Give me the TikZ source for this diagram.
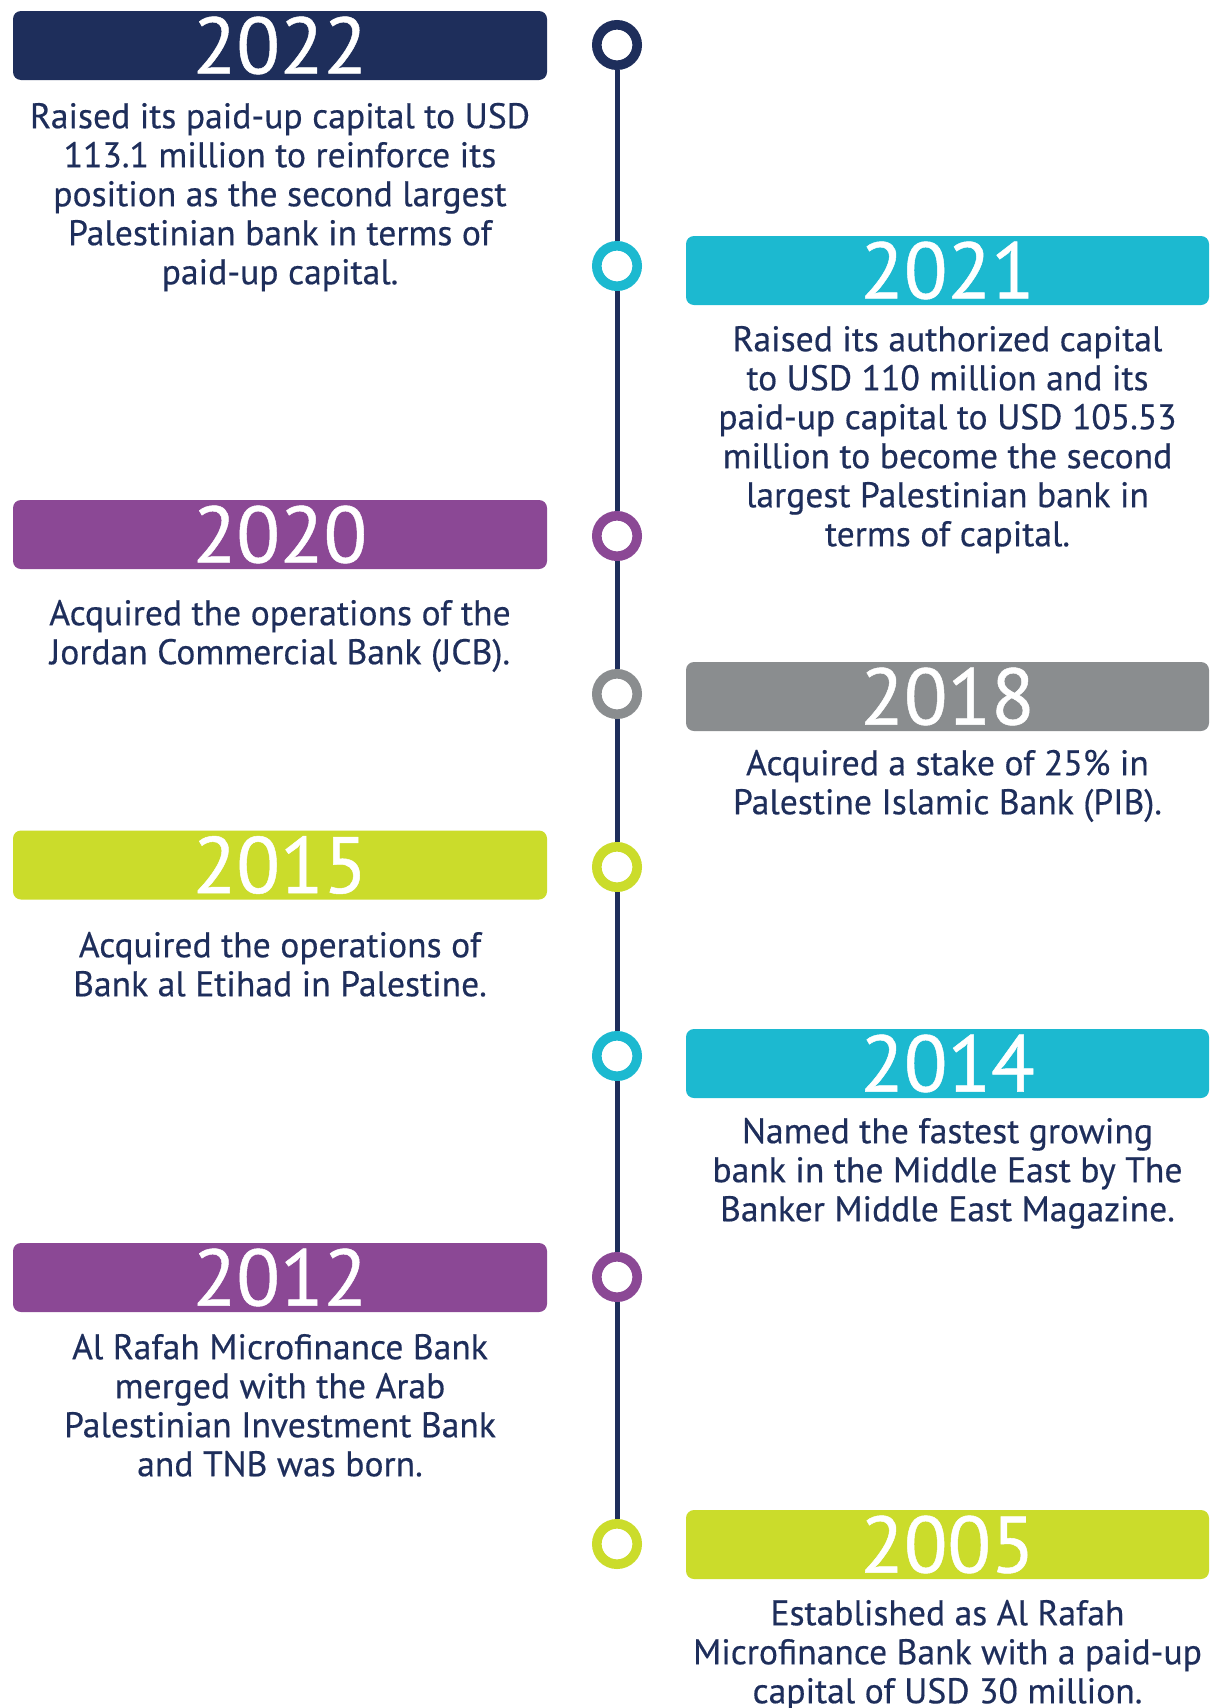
\documentclass[tikz,border=0pt]{standalone}
\usepackage{fontspec}
\setmainfont{PT Sans}
\newfontfamily\blurbfont[FakeBold=0.4]{PT Sans}
\newfontfamily\yearfont[FakeBold=0.6]{PT Sans}
\definecolor{navy}{HTML}{1E2E5B}
\definecolor{tcyan}{HTML}{1CB9D0}
\definecolor{tpurple}{HTML}{8B4895}
\definecolor{tgrey}{HTML}{8A8D8F}
\definecolor{tlime}{HTML}{CBDC2B}
\begin{document}
\begin{tikzpicture}[x=1pt,y=-1pt,
  yearbar/.style={fill=#1, draw=none, rounded corners=8pt,
    minimum height=69pt, inner sep=0pt, text=white,
    font=\yearfont\fontsize{80}{80}\selectfont},
  leftbar/.style={yearbar=#1, minimum width=534pt},
  rightbar/.style={yearbar=#1, minimum width=523pt},
  ring/.style={circle, draw=#1, line width=9.6pt, fill=white, minimum size=40.4pt,
    inner sep=0pt},
  spine/.style={draw=navy, line width=5pt},
  blurb/.style={anchor=north, align=center, inner sep=0pt, text=navy,
    font=\blurbfont\fontsize{35.6}{39}\selectfont}]
\useasboundingbox (0,0) rectangle (1211,1708);
\fill[white] (0,0) rectangle (1211,1708);

% timeline markers
\node[ring=navy]    (c2022) at (617,45)   {};
\node[ring=tcyan]   (c2021) at (617,266)  {};
\node[ring=tpurple] (c2020) at (617,536)  {};
\node[ring=tgrey]   (c2018) at (617,694)  {};
\node[ring=tlime]   (c2015) at (617,867)  {};
\node[ring=tcyan]   (c2014) at (617,1056) {};
\node[ring=tpurple] (c2012) at (617,1277) {};
\node[ring=tlime]   (c2005) at (617,1544) {};

% spine between markers
\draw[spine] (c2022) -- (c2021);
\draw[spine] (c2021) -- (c2020);
\draw[spine] (c2020) -- (c2018);
\draw[spine] (c2018) -- (c2015);
\draw[spine] (c2015) -- (c2014);
\draw[spine] (c2014) -- (c2012);
\draw[spine] (c2012) -- (c2005);

% year bars
\node[leftbar=navy]     (y2022) at (280,45.5)     {2022};
\node[rightbar=tcyan]   (y2021) at (947.5,270.5)  {2021};
\node[leftbar=tpurple]  (y2020) at (280,534.5)    {2020};
\node[rightbar=tgrey]   (y2018) at (947.5,696.5)  {2018};
\node[leftbar=tlime]    (y2015) at (280,865)      {2015};
\node[rightbar=tcyan]   (y2014) at (947.5,1063.5) {2014};
\node[leftbar=tpurple]  (y2012) at (280,1277.5)   {2012};
\node[rightbar=tlime]   (y2005) at (947.5,1544.5) {2005};

% descriptions (a strut fixes the top of each first line)
\node[blurb] (t2022) at (280,100.7) {\strut Raised its paid-up capital to USD\\113.1 million to reinforce its\\position as the second largest\\Palestinian bank in terms of\\paid-up capital.};
\node[blurb] (t2021) at (947.5,323.7) {\strut Raised its authorized capital\\to USD 110 million and its\\paid-up capital to USD 105.53\\million to become the second\\largest Palestinian bank in\\terms of capital.};
\node[blurb] (t2020) at (280,597.7) {\strut Acquired the operations of the\\Jordan Commercial Bank (JCB).};
\node[blurb] (t2018) at (947.5,747.7) {\strut Acquired a stake of 25\% in\\Palestine Islamic Bank (PIB).};
\node[blurb] (t2015) at (280,929.7) {\strut Acquired the operations of\\Bank al Etihad in Palestine.};
\node[blurb] (t2014) at (947.5,1115.7) {\strut Named the fastest growing\\bank in the Middle East by The\\Banker Middle East Magazine.};
\node[blurb] (t2012) at (280,1331.7) {\strut Al Rafah Microfinance Bank\\merged with the Arab\\Palestinian Investment Bank\\and TNB was born.};
\node[blurb] (t2005) at (947.5,1597.7) {\strut Established as Al Rafah\\Microfinance Bank with a paid-up\\capital of USD 30 million.};
\end{tikzpicture}
\end{document}
